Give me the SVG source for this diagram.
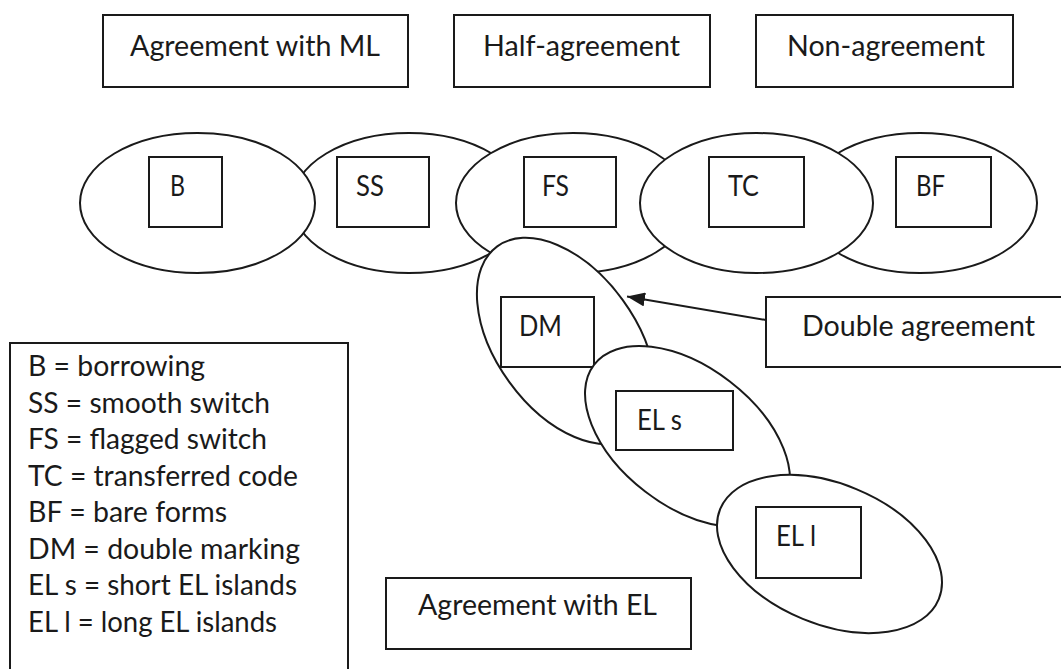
<svg xmlns="http://www.w3.org/2000/svg" width="1061" height="669" viewBox="0 0 1061 669">
  <defs>
    <style>
      .shape { fill: #ffffff; stroke: #1a1a1a; stroke-width: 2; }
      .box { fill: #ffffff; stroke: #1a1a1a; stroke-width: 2; }
      .lbl { font-family: Lato, "Open Sans", "Liberation Sans", sans-serif; font-size: 28px; fill: #1a1a1a; }
      .conn { fill: none; stroke: #1a1a1a; stroke-width: 2; }
    </style>
    <marker id="arrow" markerUnits="userSpaceOnUse" markerWidth="20" markerHeight="14" refX="18" refY="7" orient="auto">
      <path d="M0,0 L18,7 L0,14 Z" fill="#1a1a1a"/>
    </marker>
  </defs>
  <rect width="1061" height="669" fill="#ffffff"/>

  <!-- Top category boxes -->
  <g id="cat-ml">
    <rect class="box" x="103" y="15" width="305" height="72"/>
    <text class="lbl" x="130" y="56" textLength="250" lengthAdjust="spacingAndGlyphs">Agreement with ML</text>
  </g>
  <g id="cat-half">
    <rect class="box" x="454" y="15" width="256" height="72"/>
    <text class="lbl" x="483" y="56" textLength="197" lengthAdjust="spacingAndGlyphs">Half-agreement</text>
  </g>
  <g id="cat-non">
    <rect class="box" x="756" y="15" width="257" height="72"/>
    <text class="lbl" x="787" y="56" textLength="198" lengthAdjust="spacingAndGlyphs">Non-agreement</text>
  </g>

  <!-- Ellipse nodes (drawing order gives overlaps) -->
  <g id="node-SS">
    <ellipse class="shape" cx="409" cy="203" rx="117" ry="70"/>
    <rect class="box" x="337" y="157" width="92" height="70"/>
    <text class="lbl" x="356" y="196" textLength="28" lengthAdjust="spacingAndGlyphs">SS</text>
  </g>
  <g id="node-B">
    <ellipse class="shape" cx="197.5" cy="203" rx="117.5" ry="70"/>
    <rect class="box" x="149" y="157" width="73" height="70"/>
    <text class="lbl" x="170" y="196" textLength="15" lengthAdjust="spacingAndGlyphs">B</text>
  </g>
  <g id="node-FS">
    <ellipse class="shape" cx="573" cy="203" rx="117" ry="70"/>
    <rect class="box" x="524" y="157" width="92" height="70"/>
    <text class="lbl" x="542" y="196" textLength="27" lengthAdjust="spacingAndGlyphs">FS</text>
  </g>
  <g id="node-BF">
    <ellipse class="shape" cx="920" cy="203" rx="117" ry="70"/>
    <rect class="box" x="896" y="157" width="95" height="70"/>
    <text class="lbl" x="916" y="196" textLength="29" lengthAdjust="spacingAndGlyphs">BF</text>
  </g>
  <g id="node-TC">
    <ellipse class="shape" cx="756.5" cy="203" rx="116.5" ry="70"/>
    <rect class="box" x="709" y="157" width="95" height="70"/>
    <text class="lbl" x="728" y="196" textLength="31" lengthAdjust="spacingAndGlyphs">TC</text>
  </g>
  <g id="node-DM">
    <ellipse class="shape" cx="566" cy="341" rx="117" ry="70" transform="rotate(54 566 341)"/>
    <rect class="box" x="501" y="297" width="93" height="70"/>
    <text class="lbl" x="519" y="336" textLength="43" lengthAdjust="spacingAndGlyphs">DM</text>
  </g>
  <g id="node-ELs">
    <ellipse class="shape" cx="687.5" cy="436.5" rx="117.8" ry="69.4" transform="rotate(37.6 687.5 436.5)"/>
    <rect class="box" x="616" y="391" width="117" height="59"/>
    <text class="lbl" x="637" y="430" textLength="45" lengthAdjust="spacingAndGlyphs">EL s</text>
  </g>
  <g id="node-ELl">
    <ellipse class="shape" cx="829.5" cy="554" rx="118.2" ry="70.2" transform="rotate(22.4 829.5 554)"/>
    <rect class="box" x="756" y="507" width="105" height="71"/>
    <text class="lbl" x="776" y="546" textLength="40" lengthAdjust="spacingAndGlyphs">EL l</text>
  </g>

  <!-- Callout box -->
  <g id="note-double">
    <rect class="box" x="766" y="297" width="300" height="70"/>
    <text class="lbl" x="802" y="336" textLength="233" lengthAdjust="spacingAndGlyphs">Double agreement</text>
  </g>

  <!-- Bottom category box -->
  <g id="cat-el">
    <rect class="box" x="386" y="578" width="305" height="71"/>
    <text class="lbl" x="418" y="615" textLength="239" lengthAdjust="spacingAndGlyphs">Agreement with EL</text>
  </g>

  <!-- Legend -->
  <g id="legend">
    <rect class="box" x="10" y="343" width="338" height="340"/>
    <text class="lbl" x="28" y="376" textLength="177" lengthAdjust="spacingAndGlyphs">B = borrowing</text>
    <text class="lbl" x="28" y="412.5" textLength="242" lengthAdjust="spacingAndGlyphs">SS = smooth switch</text>
    <text class="lbl" x="28" y="449" textLength="239" lengthAdjust="spacingAndGlyphs">FS = flagged switch</text>
    <text class="lbl" x="28" y="485.5" textLength="270" lengthAdjust="spacingAndGlyphs">TC = transferred code</text>
    <text class="lbl" x="28" y="522" textLength="199" lengthAdjust="spacingAndGlyphs">BF = bare forms</text>
    <text class="lbl" x="28" y="558.5" textLength="272" lengthAdjust="spacingAndGlyphs">DM = double marking</text>
    <text class="lbl" x="28" y="595" textLength="269" lengthAdjust="spacingAndGlyphs">EL s = short EL islands</text>
    <text class="lbl" x="28" y="631.5" textLength="249" lengthAdjust="spacingAndGlyphs">EL l = long EL islands</text>
  </g>

  <!-- Connectors -->
  <g id="connectors">
    <line class="conn" x1="766" y1="320" x2="627" y2="296.5" marker-end="url(#arrow)"/>
  </g>
</svg>
